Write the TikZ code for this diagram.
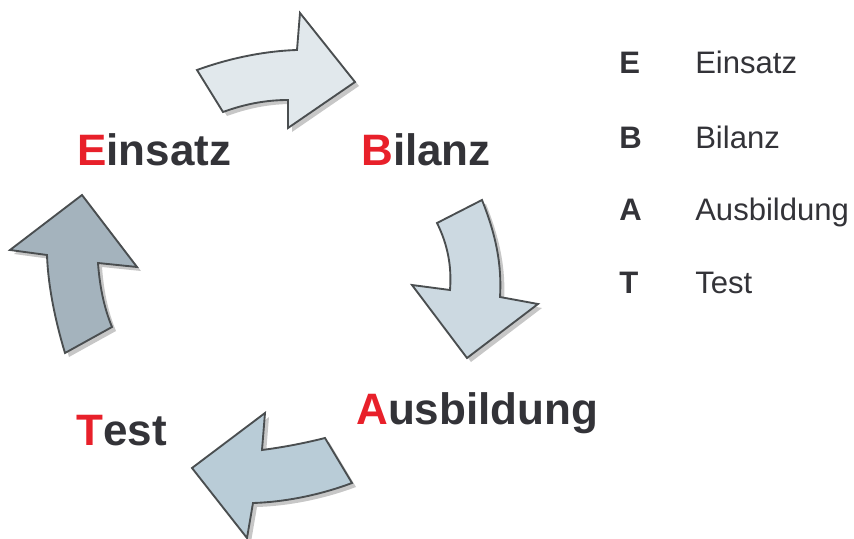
\documentclass[tikz,border=0pt]{standalone}
\usepackage{fontspec}
\setmainfont{Liberation Sans}
\usetikzlibrary{shadows}
\definecolor{txt}{HTML}{333338}
\definecolor{red1}{HTML}{E8202A}
\definecolor{edge}{HTML}{4A4E50}
\definecolor{fA}{HTML}{E1E8EC}
\definecolor{fB}{HTML}{CCD9E1}
\definecolor{fC}{HTML}{B9CCD7}
\definecolor{fD}{HTML}{A4B3BD}
\tikzset{
  cyclearrow/.style={draw=edge, line width=1.4pt, line join=miter,
    drop shadow={shadow xshift=3pt, shadow yshift=-3pt, opacity=0.4, fill=black!55}},
  biglabel/.style={anchor=base west, inner sep=0pt, text=txt, font=\fontsize{33}{40}\selectfont\bfseries},
  legkey/.style={anchor=base west, inner sep=0pt, text=txt, font=\fontsize{23.3}{28}\selectfont\bfseries},
  legval/.style={anchor=base west, inner sep=0pt, text=txt, font=\fontsize{23.3}{28}\selectfont}
}
\begin{document}
\begin{tikzpicture}[x=0.75pt, y=-0.75pt]
\useasboundingbox (0,0) rectangle (854,539);
% top arrow (Einsatz -> Bilanz)
\path[cyclearrow, fill=fA] (197,70) -- (223,112) .. controls (245,104) and (266,100) .. (288,100)
  -- (288,128) -- (355,82) -- (300,13) -- (297,50) .. controls (265,51) and (230,58) .. (197,70) -- cycle;
% right arrow (Bilanz -> Ausbildung)
\path[cyclearrow, fill=fB] (437,223) -- (482,200) .. controls (496,235) and (502,265) .. (500,297)
  -- (538,304) -- (467,358) -- (412,285) -- (450,290) .. controls (452,265) and (447,243) .. (437,223) -- cycle;
% bottom arrow (Ausbildung -> Test)
\path[cyclearrow, fill=fC] (192,468) -- (265,413) -- (262,450) .. controls (285,447) and (305,443) .. (325,438)
  -- (352,483) .. controls (320,495) and (285,502) .. (253,503) -- (247,538) -- cycle;
% left arrow (Test -> Einsatz)
\path[cyclearrow, fill=fD] (82,195) -- (137,267) -- (98,263) .. controls (100,290) and (105,310) .. (112,327)
  -- (65,353) .. controls (55,320) and (48,285) .. (47,255) -- (10,250) -- cycle;
% cycle labels
\node[biglabel] (einsatz) at (77,165) {\textcolor{red1}{E}insatz};
\node[biglabel] (bilanz) at (361,165) {\textcolor{red1}{B}ilanz};
\node[biglabel] (ausbildung) at (356,424) {\textcolor{red1}{A}usbildung};
\node[biglabel] (test) at (76,445) {\textcolor{red1}{T}est};
% legend
\node[legkey] (kE) at (619,73) {E};
\node[legval] (vE) at (695,73) {Einsatz};
\node[legkey] (kB) at (619,148) {B};
\node[legval] (vB) at (695,148) {Bilanz};
\node[legkey] (kA) at (619,220) {A};
\node[legval] (vA) at (695,220) {Ausbildung};
\node[legkey] (kT) at (619,293) {T};
\node[legval] (vT) at (695,293) {Test};
\end{tikzpicture}
\end{document}
